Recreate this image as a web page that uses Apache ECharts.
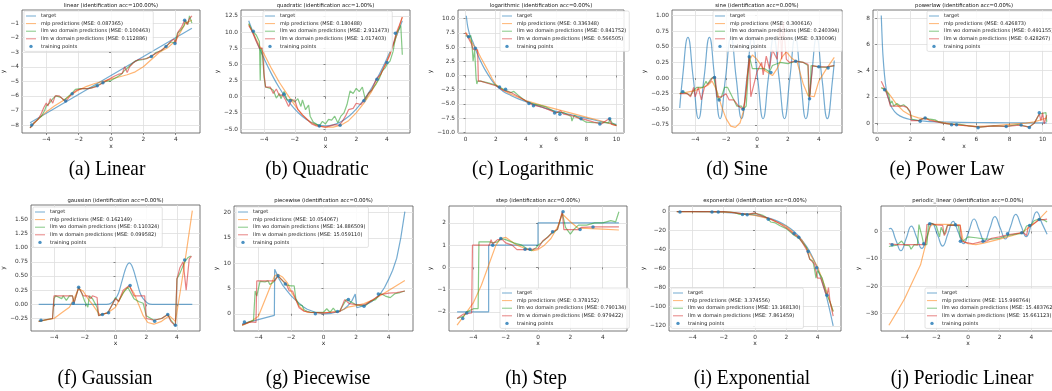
<!DOCTYPE html>
<html>
<head>
<meta charset="utf-8">
<script src="https://cdn.jsdelivr.net/npm/echarts@6.0.0/dist/echarts.min.js"></script>
<style>
  html, body { margin: 0; padding: 0; background: #fff; }
  #fig { width: 1052px; height: 391px; }
</style>
</head>
<body>
<div id="fig"></div>
<script>
// ---------------------------------------------------------------- data
// (a) linear
var linMse = [0.087365, 0.100463, 0.112886];
var linTarget = [[-5, -7.85], [5, -1.35]];
var linMlp = [[-5, -8.2], [-4.5, -7.6], [-4, -7.1], [-3.5, -6.7], [-3, -6.35], [-2.5, -5.95], [-2, -5.6], [-1.5, -5.35], [-1, -5.15], [-0.5, -5.0], [0, -4.85], [0.5, -4.7], [1, -4.55], [1.5, -4.35], [2, -4.0], [2.5, -3.5], [3, -3.0], [3.5, -2.7], [4, -2.2], [4.3, -1.6], [4.6, -1.0], [5, -0.8]];
var linWo = [[-5, -8.2], [-4.8, -7.9], [-4.5, -7.6], [-4.3, -7.4], [-4.1, -7.0], [-4, -6.7], [-3.8, -6.5], [-3.6, -6.2], [-3.4, -6.0], [-3.1, -6.1], [-2.9, -6.3], [-2.7, -6.1], [-2.4, -5.8], [-2.2, -5.55], [-1.9, -5.5], [-1.5, -5.5], [-1.2, -5.45], [-0.9, -5.3], [-0.6, -5.15], [-0.3, -5.0], [0, -4.95], [0.3, -4.75], [0.6, -4.55], [0.8, -4.3], [1.0, -4.1], [1.2, -3.9], [1.5, -3.6], [2.0, -3.5], [2.5, -3.3], [2.8, -3.0], [3.1, -2.9], [3.4, -2.6], [3.7, -2.3], [3.95, -2.35], [4.1, -1.7], [4.3, -1.5], [4.5, -1.2], [4.6, -0.8], [4.75, -1.1], [4.85, -0.5], [5, -1.0]];
var linW = [[-5, -8.2], [-4.8, -7.9], [-4.5, -7.6], [-4.3, -7.2], [-4.15, -6.8], [-4.0, -6.5], [-3.9, -6.7], [-3.75, -6.2], [-3.6, -6.5], [-3.45, -6.0], [-3.2, -6.0], [-3.0, -6.2], [-2.8, -6.4], [-2.6, -6.1], [-2.4, -5.85], [-2.1, -5.6], [-1.8, -5.5], [-1.4, -5.5], [-1.0, -5.4], [-0.8, -5.3], [-0.5, -5.1], [-0.2, -4.9], [0.2, -4.65], [0.5, -4.5], [0.7, -4.45], [0.85, -4.0], [1.0, -4.4], [1.15, -4.0], [1.4, -3.7], [1.7, -3.5], [2.2, -3.45], [2.5, -3.25], [2.9, -3.0], [3.2, -2.8], [3.5, -2.5], [3.7, -2.25], [3.9, -2.1], [4.0, -2.4], [4.15, -1.6], [4.35, -1.3], [4.55, -0.8], [4.7, -1.1], [4.85, -0.7], [5, -0.5]];
var linPts = [[-4.9, -8.0], [-2.8, -6.35], [-2.4, -5.85], [-0.85, -5.3], [-0.5, -5.1], [2.5, -3.3], [3.4, -2.6], [3.95, -2.4], [4.55, -0.8]];
var linXTicks = [-4, -2, 0, 2, 4];
var linYTicks = [-8, -7, -6, -5, -4, -3, -2, -1];

// (b) quadratic
var quadMse = [0.180488, 2.911473, 1.017403];
var quadTarget = [[-5, 11.75], [-4.5, 8.66], [-4, 5.9], [-3.5, 3.46], [-3, 1.35], [-2.5, -0.44], [-2, -1.9], [-1.5, -3.04], [-1, -3.85], [-0.5, -4.34], [0, -4.5], [0.5, -4.34], [1, -3.85], [1.5, -3.04], [2, -1.9], [2.5, -0.44], [3, 1.35], [3.5, 3.46], [4, 5.9], [4.5, 8.66], [5, 11.75]];
var quadMlp = [[-5, 11.2], [-4.5, 8.8], [-4, 6.6], [-3.5, 4.3], [-3, 2.2], [-2.5, 0.4], [-2, -1.3], [-1.5, -2.8], [-1, -3.9], [-0.5, -4.5], [0, -4.7], [0.5, -4.7], [1, -4.4], [1.5, -3.7], [2, -2.5], [2.5, -1.0], [3, 0.8], [3.5, 3.0], [4, 5.5], [4.5, 8.5], [5, 12.3]];
var quadWo = [[-5, 11.3], [-4.8, 10.3], [-4.5, 9.5], [-4.3, 8.5], [-4.25, 2.5], [-4.2, 7.5], [-4.1, 6.5], [-4, 3.0], [-3.9, 1.5], [-3.6, 1.3], [-3.4, 1.0], [-3.2, -0.2], [-3.0, 0.5], [-2.9, -0.3], [-2.7, 0.8], [-2.5, -0.5], [-2.2, -0.4], [-2, -0.8], [-1.8, -0.3], [-1.6, -1.5], [-1.5, -0.5], [-1.3, -2], [-1.1, -1.3], [-1, -3], [-0.8, -3.9], [-0.6, -4.2], [-0.4, -4.5], [-0.2, -3.8], [0, -4.2], [0.2, -3.5], [0.4, -3.6], [0.6, -3.0], [0.8, -4.0], [1.0, -3.0], [1.2, -2.5], [1.4, -1.2], [1.6, 0.9], [1.8, 0.5], [2.0, 1.3], [2.2, 0.8], [2.4, 1.5], [2.6, -0.5], [2.8, 0.5], [3.0, 1.0], [3.3, 2.0], [3.5, 2.8], [3.7, 4.0], [3.9, 4.5], [4.0, 5.0], [4.2, 5.5], [4.4, 7.0], [4.6, 9.8], [4.8, 10.5], [4.9, 11], [5, 6.5]];
var quadW = [[-5, 11.0], [-4.8, 10.2], [-4.5, 8.5], [-4.3, 7.5], [-4.1, 7.5], [-4, 3.5], [-3.9, 1.5], [-3.6, 1.5], [-3.4, 0.5], [-3.2, 1.2], [-3.0, 0.2], [-2.8, 0.3], [-2.6, -0.5], [-2.4, -1.5], [-2.2, -0.5], [-2.0, -0.5], [-1.8, -2.0], [-1.5, -2.8], [-1.2, -3.5], [-0.9, -4.2], [-0.6, -4.5], [-0.3, -4.6], [0, -4.7], [0.3, -4.5], [0.6, -4.3], [0.9, -4.4], [1.1, -3.8], [1.3, -3.0], [1.5, -2.0], [1.8, -1.8], [2.0, -1.0], [2.3, -1.2], [2.5, -0.6], [2.8, 0.5], [3.0, 1.0], [3.3, 2.7], [3.6, 3.5], [3.9, 5.0], [4.2, 6.5], [4.4, 8.0], [4.6, 9.8], [4.8, 11], [5, 12.3]];
var quadPts = [[-4.7, 10.1], [-2.7, 0.4], [-2.3, -0.6], [-0.4, -4.5], [0.95, -4.4], [2.5, -0.6], [3.35, 2.7], [4, 5.3], [4.55, 9.8]];
var quadXTicks = [-4, -2, 0, 2, 4];
var quadYTicks = [-5, -2.5, 0, 2.5, 5, 7.5, 10, 12.5];

// (c) logarithmic
var logMse = [0.336348, 0.841752, 0.566505];
var logTarget = [[0.05, 10.5], [0.15, 8.5], [0.3, 7.0], [0.5, 5.8], [0.75, 4.0], [1.0, 2.5], [1.25, 1.2], [1.5, 0.1], [1.75, -0.9], [2, -1.7], [2.5, -2.8], [3, -3.5], [3.5, -4.1], [4, -4.6], [5, -5.5], [6, -6.3], [7, -6.9], [8, -7.5], [9, -8.1], [10, -8.6]];
var logMlp = [[0, 7.6], [0.25, 6.6], [0.5, 5.4], [0.75, 4.5], [1.0, 3.2], [1.25, 2.0], [1.5, 0.8], [1.75, -0.5], [2, -1.6], [2.5, -2.6], [3, -3.3], [4, -4.4], [5, -5.2], [6, -5.9], [7, -6.6], [8, -7.3], [9, -8.0], [10, -8.8]];
var logWo = [[0, 7.0], [0.2, 6.8], [0.35, 7.0], [0.45, 4.5], [0.5, 2.5], [0.55, 3.5], [0.6, 4.5], [0.7, -0.5], [0.75, -1.5], [0.8, -1.0], [1.0, -1.0], [1.5, -1.3], [2, -1.7], [2.5, -2.4], [3, -3.0], [3.2, -2.8], [3.5, -3.5], [4, -4.5], [4.5, -5.0], [5, -5.3], [5.3, -5.5], [6, -6.5], [6.5, -6.5], [7, -7.2], [7.05, -8.0], [7.2, -7.0], [8, -8.2], [8.5, -8.3], [9, -8.3], [9.5, -8.3], [9.55, -7.5], [9.7, -8.3], [10, -8.8]];
var logW = [[0, 7.5], [0.2, 6.5], [0.4, 5.5], [0.5, 4.6], [0.8, 4.5], [0.85, -1.0], [1.0, -1.0], [1.5, -1.4], [2, -1.8], [2.5, -2.6], [3, -3.0], [3.5, -3.7], [4, -4.5], [4.5, -5.2], [5, -5.5], [5.5, -6.0], [6, -6.6], [6.3, -6.2], [6.5, -6.8], [7, -7.0], [7.5, -7.5], [8, -7.8], [8.5, -8.2], [9, -8.5], [9.5, -7.6], [9.7, -8.6], [10, -8.8]];
var logPts = [[0.2, 6.8], [0.65, 4.8], [2.25, -2.0], [2.65, -2.4], [4.2, -4.9], [4.5, -5.3], [5.9, -6.6], [6.25, -6.8], [7.65, -7.6], [8.9, -8.5], [9.55, -7.6]];
var logXTicks = [0, 2, 4, 6, 8, 10];
var logYTicks = [-10, -7.5, -5, -2.5, 0, 2.5, 5, 7.5, 10];

// (d) sine
var sinMse = [0.300616, 0.240394, 0.330096];
var sinTarget = [[-5, -0.48], [-4.82, 0], [-4.47, 0.65], [-4.125, 0], [-3.78, -0.65], [-3.43, 0], [-3.08, 0.65], [-2.735, 0], [-2.39, -0.65], [-2.04, 0], [-1.69, 0.65], [-1.345, 0], [-1.0, -0.65], [-0.655, 0], [-0.31, 0.65], [0.04, 0], [0.39, -0.65], [0.735, 0], [1.08, 0.65], [1.43, 0], [1.78, -0.65], [2.125, 0], [2.47, 0.65], [2.815, 0], [3.16, -0.65], [3.51, 0], [3.86, 0.65], [4.2, 0], [4.55, -0.65], [4.9, 0], [5, 0.28]];
var sinMlp = [[-5, -0.25], [-4, -0.2], [-3.2, -0.12], [-2.9, -0.05], [-2.6, -0.2], [-2.3, -0.45], [-2, -0.65], [-1.7, -0.77], [-1.4, -0.79], [-1.1, -0.72], [-0.9, -0.55], [-0.75, -0.3], [-0.6, 0.1], [-0.45, 0.3], [-0.3, 0.37], [0, 0.3], [0.5, 0.12], [1.0, 0.04], [1.3, 0.15], [1.6, 0.33], [1.9, 0.42], [2.2, 0.33], [2.6, 0.25], [3.0, -0.1], [3.3, -0.28], [3.7, -0.3], [4.0, -0.05], [4.5, 0.15], [5, 0.33]];
var sinWo = [[-5, -0.25], [-4.8, -0.22], [-4.3, -0.28], [-4.1, -0.2], [-3.9, -0.15], [-3.5, -0.15], [-3.3, -0.05], [-3.2, -0.1], [-3.0, -0.02], [-2.8, 0.02], [-2.7, 0.0], [-2.5, -0.35], [-2.3, -0.3], [-2.1, -0.15], [-1.9, -0.15], [-1.7, -0.25], [-1.5, -0.35], [-1.3, -0.45], [-1.0, -0.45], [-0.9, -0.5], [-0.7, -0.45], [-0.5, 0.35], [-0.3, 0.15], [0.0, 0.15], [0.5, 0.15], [0.8, 0.1], [1.0, 0.2], [1.5, 0.25], [2.0, 0.23], [2.5, 0.27], [3.0, 0.25], [3.3, 0.2], [3.35, -0.3], [3.45, -0.25], [3.5, 0.2], [4, 0.18], [4.5, 0.17], [5, 0.2]];
var sinW = [[-5, -0.25], [-4.5, -0.25], [-4.3, -0.3], [-4.1, -0.15], [-4.0, -0.3], [-3.8, -0.15], [-3.6, -0.35], [-3.4, -0.15], [-3.2, -0.1], [-3.0, -0.05], [-2.9, 0.0], [-2.7, 0.02], [-2.6, -0.3], [-2.3, -0.3], [-2.0, -0.25], [-1.8, -0.35], [-1.5, -0.35], [-1.2, -0.45], [-0.9, -0.5], [-0.8, -0.4], [-0.7, -0.2], [-0.5, 0.35], [-0.4, -0.3], [-0.2, -0.1], [0, 0.1], [0.3, 0.25], [0.4, 0.05], [0.6, 0.35], [0.8, 0.15], [1.0, 0.45], [1.3, 0.3], [1.5, 0.85], [1.6, 0.3], [1.7, 0.9], [1.9, 0.3], [2.1, 0.25], [2.5, 0.27], [3.0, 0.25], [3.3, 0.22], [3.4, -0.33], [3.6, 0.2], [4, 0.18], [4.5, 0.18], [5, 0.2]];
var sinPts = [[-4.8, -0.22], [-2.75, 0.01], [-2.45, -0.35], [-0.9, -0.5], [-0.5, 0.34], [0.9, 0.09], [2.5, 0.27], [3.4, -0.33], [4.0, 0.18], [4.6, 0.16]];
var sinXTicks = [-4, -2, 0, 2, 4];
var sinYTicks = [-0.75, -0.5, -0.25, 0, 0.25, 0.5, 0.75, 1.0];

// (e) power law
var powMse = [0.426873, 0.491155, 0.428267];
var powTarget = [[0.25, 8.2], [0.3, 6.5], [0.35, 5.2], [0.45, 3.6], [0.55, 2.6], [0.7, 1.8], [0.9, 1.15], [1.2, 0.7], [1.6, 0.42], [2, 0.28], [3, 0.14], [4, 0.09], [6, 0.05], [8, 0.03], [10.25, 0.02]];
var powMlp = [[0.25, 2.7], [0.5, 2.6], [0.8, 2.1], [1.2, 1.4], [1.6, 0.9], [2, 0.6], [2.5, 0.4], [3, 0.3], [4, 0.05], [5, -0.15], [6, -0.25], [7, -0.2], [8, -0.1], [9, 0.0], [9.5, 0.1], [10, 0.3], [10.25, 0.4]];
var powWo = [[0.25, 2.7], [0.4, 2.6], [0.5, 2.5], [0.7, 2.2], [0.8, 1.5], [0.9, 1.7], [1.0, 1.3], [1.2, 1.5], [1.4, 1.3], [1.6, 1.4], [1.8, 1.2], [1.9, 1.0], [2.0, 0.8], [2.1, 0.3], [2.5, 0.2], [2.9, 0.4], [3.2, 0.3], [3.5, 0.25], [3.7, 0.1], [4.0, 0.0], [4.5, -0.1], [5.0, -0.1], [5.5, -0.2], [6.2, -0.3], [7.0, -0.2], [7.8, -0.25], [8.5, -0.1], [9.2, -0.3], [9.5, 0.0], [9.8, 0.7], [10.2, 0.8], [10.25, 0.1]];
var powW = [[0.25, 3.2], [0.4, 2.8], [0.5, 2.5], [0.7, 1.8], [0.8, 1.3], [1.2, 1.3], [1.6, 1.3], [1.8, 1.2], [2.0, 0.9], [2.05, 0.2], [2.5, 0.2], [2.9, 0.4], [3.2, 0.2], [3.6, 0.1], [4.0, 0.0], [4.5, -0.1], [5.0, -0.15], [5.5, -0.2], [6.2, -0.3], [7.0, -0.2], [7.8, -0.25], [8.6, -0.15], [9.2, -0.3], [9.5, 0.0], [9.8, 0.7], [9.9, 0.2], [10.0, 0.8], [10.1, -0.05], [10.25, 0.6]];
var powPts = [[0.45, 2.55], [2.6, 0.15], [2.9, 0.4], [4.5, -0.12], [4.8, -0.12], [6.1, -0.35], [7.8, -0.25], [8.7, -0.15], [9.2, -0.33], [9.8, 0.8]];
var powXTicks = [0, 2, 4, 6, 8, 10];
var powYTicks = [0, 2, 4, 6, 8];

// (f) gaussian
var gauMse = [0.162149, 0.110324, 0.099582];
var gauTarget = [[-5, 0], [-0.6, 0], [-0.3, 0.02], [0, 0.1], [0.2, 0.2], [0.4, 0.39], [0.6, 0.58], [0.75, 0.69], [0.9, 0.73], [1.05, 0.69], [1.2, 0.58], [1.4, 0.39], [1.6, 0.2], [1.8, 0.1], [2.1, 0.02], [2.4, 0], [5, 0]];
var gauMlp = [[-5, -0.3], [-4, -0.25], [-3.5, -0.15], [-3, -0.05], [-2.7, 0.1], [-2.4, 0.28], [-2.1, 0.23], [-1.8, 0.1], [-1.5, 0.0], [-1.2, -0.12], [-1, -0.18], [-0.5, -0.15], [0, -0.05], [0.3, 0.1], [0.6, 0.25], [0.9, 0.32], [1.2, 0.2], [1.5, 0.0], [1.8, -0.2], [2.1, -0.32], [2.5, -0.35], [3, -0.3], [3.5, -0.2], [3.9, -0.3], [4.2, 0.2], [4.6, 0.9], [5, 1.65]];
var gauWo = [[-5, -0.3], [-4.5, -0.27], [-4.1, -0.25], [-4.0, 0.1], [-3.9, 0.15], [-3.5, 0.1], [-3.4, 0.15], [-3.2, 0.07], [-3.0, 0.15], [-2.8, 0.15], [-2.7, 0.02], [-2.4, 0.3], [-2.2, 0.2], [-2.0, 0.05], [-1.8, -0.05], [-1.7, 0.15], [-1.5, 0.1], [-1.2, -0.05], [-1.1, -0.2], [-0.8, -0.17], [-0.5, -0.15], [-0.2, 0.0], [0, 0.12], [0.2, 0.05], [0.5, 0.2], [0.8, 0.3], [0.9, 0.32], [1.2, 0.1], [1.5, 0.05], [1.8, 0.02], [2.0, -0.2], [2.5, -0.28], [3.0, -0.25], [3.4, -0.18], [3.6, -0.28], [3.9, -0.38], [4.0, 0.45], [4.2, 0.55], [4.5, 0.75], [4.7, 0.82], [4.9, 0.85]];
var gauW = [[-5, -0.3], [-4.7, -0.28], [-4.1, -0.25], [-4, 0.15], [-3.0, 0.15], [-2.8, 0.15], [-2.7, 0.02], [-2.4, 0.3], [-2.1, 0.15], [-1.8, 0.15], [-1.6, 0.1], [-1.5, 0.15], [-1.2, 0.12], [-1.1, -0.2], [-0.8, -0.17], [-0.5, -0.15], [-0.2, 0.0], [0, 0.1], [0.2, 0.05], [0.5, 0.25], [0.9, 0.33], [1.2, 0.15], [1.9, 0.15], [2.0, -0.25], [2.5, -0.28], [3.0, -0.25], [3.4, -0.18], [3.6, -0.3], [3.9, -0.38], [4.0, 0.45], [4.2, 0.65], [4.4, 0.75], [4.6, 0.25], [4.8, 0.8], [4.95, 0.85]];
var gauPts = [[-4.85, -0.28], [-2.75, 0.02], [-2.4, 0.3], [-0.85, -0.18], [-0.45, -0.15], [0.95, 0.33], [2.55, -0.3], [3.4, -0.18], [3.9, -0.37], [4.5, 0.78]];
var gauXTicks = [-4, -2, 0, 2, 4];
var gauYTicks = [-0.25, 0, 0.25, 0.5, 0.75, 1.0, 1.25, 1.5];

// (g) piecewise
var pwMse = [10.054067, 14.886509, 15.059110];
var pwTarget = [[-5, -2.0], [-3.02, -0.3], [-3.0, 8.8], [-2.75, 7.0], [-2.5, 5.6], [-2.25, 4.6], [-2, 3.6], [-1.75, 2.8], [-1.5, 2.1], [-1.25, 1.4], [-1, 0.9], [-0.5, 0.3], [0, 0.0], [0.5, 0.1], [1.0, 0.5], [1.25, 0.9], [1.5, 1.6], [1.75, 2.6], [1.95, 3.9], [2.05, 1.2], [2.5, 1.6], [3.0, 2.5], [3.25, 3.2], [3.5, 4.0], [3.75, 5.2], [4.0, 6.8], [4.25, 8.6], [4.5, 11.0], [4.75, 15.0], [5.0, 20.2]];
var pwMlp = [[-5, -2.3], [-4.5, -1.6], [-4, -0.5], [-3.5, 3.5], [-3, 7.5], [-2.8, 7.8], [-2.5, 7.2], [-2.2, 6.0], [-2, 4.5], [-1.7, 2.8], [-1.5, 1.5], [-1.2, 0.6], [-1, 0.3], [0, 0.2], [1, 0.5], [1.5, 1.3], [2, 1.6], [2.5, 2.0], [3, 2.7], [3.5, 3.6], [4, 4.6], [4.5, 5.6], [5, 6.6]];
var pwWo = [[-5, -2.2], [-4.5, -1.5], [-4.3, -1.3], [-4.2, 4.5], [-4.1, 3.5], [-3.9, 6.4], [-3.6, 6.3], [-3.4, 6.5], [-3.3, 5.8], [-3.1, 6.2], [-3.0, 6.5], [-2.8, 7.5], [-2.5, 6.5], [-2.3, 5.7], [-2.0, 5.5], [-1.8, 5.5], [-1.7, 3.0], [-1.5, 1.8], [-1.3, 1.6], [-1.2, 0.8], [-1.0, 0.5], [-0.8, 0.3], [0, 0.3], [0.2, 1.0], [0.4, 0.3], [0.6, 1.1], [0.8, 0.3], [1, 0.6], [1.4, 2.8], [1.6, 2.5], [2, 1.8], [2.3, 1.6], [2.6, 1.7], [2.9, 2.5], [3.2, 2.8], [3.5, 4.0], [3.8, 3.5], [4.1, 3.2], [4.4, 4.0], [4.7, 4.2], [5, 4.5]];
var pwW = [[-5, -2.2], [-4.5, -1.6], [-4.15, -1.7], [-4.1, 6.5], [-3.0, 6.5], [-2.8, 7.5], [-2.5, 6.5], [-2.3, 6.0], [-2.1, 4.5], [-1.9, 4.5], [-1.7, 2.8], [-1.5, 1.2], [-1.2, 0.5], [-0.8, 0.3], [0, 0.2], [1, 0.4], [1.3, 2.8], [1.6, 2.0], [2, 1.8], [2.5, 1.7], [3, 2.7], [3.5, 3.8], [4, 4.1], [4.5, 4.2], [5, 4.5]];
var pwPts = [[-4.86, -1.6], [-2.8, 7.5], [-2.35, 5.9], [-0.5, 0.0], [0.86, 0.45], [1.53, 2.8], [2.49, 1.5], [3.37, 3.9]];
var pwXTicks = [-4, -2, 0, 2, 4];
var pwYTicks = [0, 5, 10, 15, 20];

// (h) step
var stpMse = [0.378152, 0.790134, 0.979422];
var stpTarget = [[-5, -2], [-3.05, -2], [-3.05, 1], [0, 1], [0, 2], [5, 2]];
var stpMlp = [[-5, -2.6], [-4.5, -2.1], [-4, -1.6], [-3.5, -0.8], [-3, 0.2], [-2.6, 1.0], [-2.3, 1.3], [-2, 1.35], [-1.7, 1.2], [-1.3, 1.0], [-0.8, 0.85], [-0.3, 0.75], [0, 0.8], [0.4, 1.0], [0.8, 1.3], [1.2, 1.8], [1.5, 2.4], [2, 2.05], [2.5, 1.75], [3, 1.75], [4, 1.72], [5, 1.68]];
var stpWo = [[-5, -2.3], [-4.6, -2.2], [-4.4, -2.0], [-3.95, -1.85], [-3.7, -1.85], [-3.65, 1.15], [-3.0, 1.15], [-2.8, 1.1], [-2.5, 1.15], [-2.3, 1.3], [-2.0, 1.25], [-1.5, 1.1], [-1.0, 1.0], [-0.7, 0.85], [-0.4, 0.75], [-0.1, 0.9], [0, 1.0], [0.2, 1.1], [0.5, 1.3], [0.8, 1.5], [1.0, 1.6], [1.2, 1.7], [1.5, 2.45], [1.7, 1.8], [2.0, 1.5], [2.2, 1.7], [2.5, 1.9], [3, 1.9], [3.5, 2.0], [4, 2.0], [4.5, 2.1], [4.8, 2.05], [5, 2.5]];
var stpW = [[-5, -2.3], [-4.6, -2.1], [-4.1, -2.05], [-4.05, 1.0], [-3.0, 1.0], [-2.9, 1.25], [-2.8, 1.05], [-2.5, 1.25], [-2.2, 1.25], [-2.0, 1.1], [-1.6, 1.0], [-1.3, 0.8], [-0.8, 0.8], [-0.3, 0.82], [0, 0.85], [0.3, 1.2], [0.6, 1.35], [0.9, 1.6], [1.2, 1.7], [1.5, 2.5], [1.6, 1.7], [2.5, 1.7], [2.7, 1.8], [3.5, 1.82], [5, 1.82]];
var stpPts = [[-4.65, -2.3], [-4.4, -2.05], [-2.8, 1.0], [-2.3, 1.3], [-0.8, 0.82], [-0.5, 0.82], [0.9, 1.6], [1.55, 2.5], [2.6, 1.7], [3.4, 1.82]];
var stpXTicks = [-4, -2, 0, 2, 4];
var stpYTicks = [-2, -1, 0, 1, 2];

// (i) exponential
var expMse = [3.374556, 13.168130, 7.861459];
var expTarget = [[-5, -0.1], [-4, -0.2], [-3, -0.5], [-2, -0.9], [-1, -1.9], [0, -3.75], [1, -7.5], [1.5, -10.6], [2, -15], [2.5, -21], [3, -30], [3.5, -42], [4, -60], [4.5, -85], [5, -120]];
var expMlp = [[-5, -0.3], [-3, -0.5], [-1.5, -1], [0, -4], [1, -8], [2, -15.5], [3, -30], [4, -58], [4.5, -80], [5, -105]];
var expWo = [[-5, 0], [-4.8, 0], [-2, 0], [-1.3, -1], [-1, -3], [-0.5, -3], [0, -2], [0.1, 0.0], [0.3, -3], [0.5, -4], [0.8, -7], [1, -11], [1.3, -12], [1.6, -15], [2, -18], [2.3, -22], [2.5, -25], [2.8, -28], [3.0, -32], [3.3, -38], [3.5, -50], [3.7, -52], [3.8, -60], [3.9, -70], [4.0, -62], [4.3, -70], [4.6, -88], [4.8, -95], [4.9, -93], [5, -105]];
var expW = [[-5, 0], [-2, 0], [-1.2, -1.5], [-0.5, -3], [0, -1.5], [0.2, -3], [0.5, -5], [1, -8], [1.5, -12], [2, -17], [2.3, -21], [2.5, -24], [2.8, -27], [3, -32], [3.3, -40], [3.5, -50], [3.8, -55], [4.0, -70], [4.2, -70], [4.5, -85], [4.6, -88], [4.7, -80], [4.8, -95], [5, -110]];
var expPts = [[-4.8, -0.5], [-2.75, -0.6], [-2.35, -0.6], [-0.8, -3], [-0.5, -3.3], [0.85, -8], [2.5, -23], [2.8, -27], [3.4, -42], [3.95, -59], [4.6, -88]];
var expXTicks = [-4, -2, 0, 2, 4];
var expYTicks = [-120, -100, -80, -60, -40, -20, 0];

// (j) periodic linear
var perMse = [115.998764, 15.483762, 15.661123];
var perTarget = [[-5, 0.9], [-4.9, 1.1], [-4.57, -3.0], [-4.24, -7.06], [-3.91, -2.6], [-3.58, 1.97], [-3.25, -2.1], [-2.92, -6.2], [-2.59, -1.7], [-2.26, 2.83], [-1.93, -1.25], [-1.6, -5.34], [-1.27, -0.83], [-0.94, 3.69], [-0.61, -0.4], [-0.28, -4.48], [0.05, 0.03], [0.38, 4.55], [0.71, 0.46], [1.04, -3.62], [1.37, 0.89], [1.7, 5.4], [2.03, 1.32], [2.36, -2.77], [2.69, 1.75], [3.02, 6.26], [3.35, 2.18], [3.68, -1.91], [4.01, 2.61], [4.34, 7.12], [4.67, 3.04], [5.0, -1.05]];
var perMlp = [[-5, -34.3], [-4.5, -29.5], [-4, -24.5], [-3.5, -18.3], [-3, -12.2], [-2.75, -6.5], [-2.55, -1.5], [-2.4, 1.8], [-2.2, 2.6], [-1.5, 2.6], [-0.8, 2.5], [-0.5, 2.4], [-0.3, -3.5], [0, -4.5], [0.5, -4.8], [1, -4.3], [2, -2.8], [3, -1.2], [3.5, 0], [4, 2], [4.5, 4.5], [5, 7.5]];
var perWo = [[-5, -5.5], [-4.5, -5.0], [-4.2, -3.5], [-4.0, -5.0], [-3.7, -5.2], [-3.6, -6.5], [-3.4, -4.8], [-3.2, -5.0], [-3.1, 2.5], [-2.9, -2], [-2.8, -4.8], [-2.6, -4.8], [-2.5, 2.5], [-2.3, 3], [-2.0, 2.0], [-1.8, -2], [-1.7, 1.5], [-1.5, -1.0], [-1.3, 2.2], [-1.0, 2.3], [-0.6, 2.0], [-0.5, -2], [-0.3, -3.5], [0, -2.0], [0.5, -2.3], [1, -2.7], [1.5, -2.8], [2, -2.5], [2.5, -1.5], [3, -1.0], [3.3, -0.8], [3.5, -0.5], [3.7, 2.0], [4.0, 2.5], [4.2, 4.0], [4.5, 4.5], [4.8, 4.2], [5, 3.5]];
var perW = [[-5, -4.5], [-4.5, -4.8], [-4, -4.8], [-3.5, -4.8], [-3, -4.8], [-2.7, -4.8], [-2.6, 2.5], [-2.3, 2.8], [-2.0, 2.4], [-1.6, 2.2], [-1.5, -1.5], [-1.4, -0.5], [-1.3, 2.2], [-0.5, 2.2], [-0.4, -3.5], [-0.2, -4.0], [0, -4.2], [0.3, -4.5], [0.8, -3.8], [1.2, -3.5], [1.5, -2.5], [2, -2.0], [2.5, -1.2], [3, -0.8], [3.5, -0.4], [3.7, -1.5], [3.8, 1.5], [4.2, 3.0], [4.5, 4.3], [4.8, 4.3], [5, 4.5]];
var perPts = [[-4.8, -4.9], [-2.8, -4.5], [-2.42, 2.8], [-0.8, 2.4], [-0.48, -3.6], [0.95, -3.6], [2.5, -0.85], [3.4, -0.5], [3.9, 2.2], [4.5, 4.4]];
var perXTicks = [-4, -2, 0, 2, 4];
var perYTicks = [-30, -20, -10, 0];

// ---------------------------------------------------------------- style
var FONT = 'DejaVu Sans';
var LINE_COLORS = ['rgba(31,119,180,0.62)', 'rgba(255,127,14,0.58)', 'rgba(44,160,44,0.58)', 'rgba(214,39,40,0.58)'];
var POINT_COLOR = '#1f77b4';
// thin bar centred in a 10 x 3.4 box, used as legend handle for lines
var LINE_ICON = 'path://M0,0M0,1.2h10v1h-10zM10,3.4';

// one entry per subplot: box = [left, top, right, bottom] in px
var panels = [
  {title: 'linear (identification acc=100.00%)', box: [22, 10, 200, 133], xr: [-5.5, 5.5], yr: [-8.55, -0.1], xt: linXTicks, yt: linYTicks, yDec: 0, yGap: 7, leg: [24, 11],
   lines: [linTarget, linMlp, linWo, linW], pts: linPts, mse: linMse, smooth: 0},
  {title: 'quadratic (identification acc=1.00%)', box: [241, 10, 410, 133], xr: [-5.5, 5.5], yr: [-5.6, 13.4], xt: quadXTicks, yt: quadYTicks, yDec: 1, yGap: 8, leg: [263, 11],
   lines: [quadTarget, quadMlp, quadWo, quadW], pts: quadPts, mse: quadMse, smooth: 0.3},
  {title: 'logarithmic (identification acc=0.00%)', box: [458, 10, 624, 133], xr: [-0.5, 10.5], yr: [-10.1, 11.5], xt: logXTicks, yt: logYTicks, yDec: 1, yGap: 18, leg: [500, 11],
   lines: [logTarget, logMlp, logWo, logW], pts: logPts, mse: logMse, smooth: 0.3},
  {title: 'sine (identification acc=0.00%)', box: [672, 10, 842, 133], xr: [-5.5, 5.5], yr: [-0.88, 1.09], xt: sinXTicks, yt: sinYTicks, yDec: 2, yGap: 18, leg: [713, 11],
   lines: [sinTarget, sinMlp, sinWo, sinW], pts: sinPts, mse: sinMse, smooth: 0.5},
  {title: 'powerlaw (identification acc=0.00%)', box: [873, 10, 1055, 133], xr: [-0.25, 10.75], yr: [-0.75, 8.62], xt: powXTicks, yt: powYTicks, yDec: 0, yGap: 5, leg: [927, 11],
   lines: [powTarget, powMlp, powWo, powW], pts: powPts, mse: powMse, smooth: 0.3},
  {title: 'gaussian (identification acc=0.00%)', box: [31, 205, 200, 331], xr: [-5.5, 5.5], yr: [-0.47, 1.75], xt: gauXTicks, yt: gauYTicks, yDec: 2, yGap: 18, leg: [33, 207],
   lines: [gauTarget, gauMlp, gauWo, gauW], pts: gauPts, mse: gauMse, smooth: 0.3},
  {title: 'piecewise (identification acc=0.00%)', box: [234, 206, 413, 331], xr: [-5.5, 5.5], yr: [-3.4, 21.3], xt: pwXTicks, yt: pwYTicks, yDec: 0, yGap: 9, leg: [236, 207],
   lines: [pwTarget, pwMlp, pwWo, pwW], pts: pwPts, mse: pwMse, smooth: 0},
  {title: 'step (identification acc=0.00%)', box: [449, 206, 627, 331], xr: [-5.5, 5.5], yr: [-2.86, 2.76], xt: stpXTicks, yt: stpYTicks, yDec: 0, yGap: 9, leg: [500, 288],
   lines: [stpTarget, stpMlp, stpWo, stpW], pts: stpPts, mse: stpMse, smooth: 0},
  {title: 'exponential (identification acc=0.00%)', box: [669, 206, 841, 331], xr: [-5.5, 5.5], yr: [-125.5, 5.8], xt: expXTicks, yt: expYTicks, yDec: 0, yGap: 15, leg: [671, 288],
   lines: [expTarget, expMlp, expWo, expW], pts: expPts, mse: expMse, smooth: 0.3},
  {title: 'periodic_linear (identification acc=0.00%)', box: [881, 206, 1055, 331], xr: [-5.5, 5.5], yr: [-36.4, 9.3], xt: perXTicks, yt: perYTicks, yDec: 0, yGap: 14, leg: [925, 288],
   lines: [perTarget, perMlp, perWo, perW], pts: perPts, mse: perMse, smooth: 0.5}
];

var captions = [
  ['(a) Linear', 107, 169], ['(b) Quadratic', 317, 169], ['(c) Logarithmic', 533, 169], ['(d) Sine', 737, 169], ['(e) Power Law', 947, 169],
  ['(f) Gaussian', 105, 378], ['(g) Piecewise', 318, 378], ['(h) Step', 536, 378], ['(i) Exponential', 752, 378], ['(j) Periodic Linear', 962, 378]
];

function tickFmt(dec) {
  return function (v) {
    var s = Math.abs(v).toFixed(dec);
    return (v < 0 && Number(s) !== 0 ? '\u2212' : '') + s;
  };
}

// ---------------------------------------------------------------- build
var grids = [], xAxes = [], yAxes = [], series = [], legends = [], graphics = [];

panels.forEach(function (p, i) {
  var b = p.box;
  var row2 = b[1] > 150;
  grids.push({
    left: b[0], top: b[1], width: b[2] - b[0], height: b[3] - b[1],
    show: true, borderColor: '#555', borderWidth: 0.8, backgroundColor: 'transparent',
    outerBoundsMode: 'none'
  });
  var axisCommon = function (ticks, dec) {
    return {
      axisLine: {show: false},
      axisTick: {show: true, length: 2, lineStyle: {color: '#444', width: 0.6}, customValues: ticks},
      axisLabel: {fontSize: 5.8, color: '#333', fontFamily: FONT, margin: 3, customValues: ticks, formatter: tickFmt(dec)},
      splitLine: {show: true, lineStyle: {color: '#dedede', width: 0.8}},
      nameTextStyle: {fontSize: 6, color: '#222', fontFamily: FONT}
    };
  };
  xAxes.push(Object.assign({
    gridIndex: i, type: 'value', min: p.xr[0], max: p.xr[1],
    name: 'x', nameLocation: 'middle', nameGap: row2 ? 8 : 10
  }, axisCommon(p.xt, 0)));
  yAxes.push(Object.assign({
    gridIndex: i, type: 'value', min: p.yr[0], max: p.yr[1],
    name: 'y', nameLocation: 'middle', nameGap: p.yGap
  }, axisCommon(p.yt, p.yDec)));

  var names = [
    'target',
    'mlp predictions (MSE: ' + p.mse[0].toFixed(6) + ')',
    'llm wo domain predictions (MSE: ' + p.mse[1].toFixed(6) + ')',
    'llm w domain predictions (MSE: ' + p.mse[2].toFixed(6) + ')'
  ];
  p.lines.forEach(function (d, k) {
    series.push({
      name: names[k], type: 'line', xAxisIndex: i, yAxisIndex: i, data: d,
      symbol: 'none', smooth: k === 0 ? p.smooth : false,
      color: LINE_COLORS[k], lineStyle: {width: 1.2, color: LINE_COLORS[k]},
      silent: true
    });
  });
  series.push({
    name: 'training points', type: 'scatter', xAxisIndex: i, yAxisIndex: i, data: p.pts,
    symbol: 'circle', symbolSize: 3.5, itemStyle: {color: POINT_COLOR}, z: 5, silent: true
  });

  legends.push({
    left: p.leg[0], top: p.leg[1], orient: 'vertical',
    itemWidth: 10, itemHeight: 3.4, itemGap: 1.6,
    padding: [2, 3, 2, 2], backgroundColor: 'rgba(255,255,255,0.85)',
    borderColor: '#d0d0d0', borderWidth: 0.6, borderRadius: 1.5,
    selectedMode: false, itemStyle: {borderWidth: 0},
    textStyle: {fontSize: 5, color: '#222', fontFamily: FONT, lineHeight: 6},
    data: names.map(function (n) { return {name: n, icon: LINE_ICON}; })
      .concat([{name: 'training points', icon: 'circle'}])
  });

  graphics.push({
    type: 'text', x: (b[0] + b[2]) / 2, y: row2 ? 201 : 5.5, silent: true,
    style: {text: p.title, fontSize: 5.3, fontFamily: FONT, fill: '#111', align: 'center', verticalAlign: 'middle'}
  });
});

captions.forEach(function (c) {
  graphics.push({
    type: 'text', x: c[1], y: c[2], scaleX: 0.92, silent: true,
    style: {text: c[0], fontSize: 21, fontFamily: 'Liberation Serif', fill: '#000', align: 'center', verticalAlign: 'middle'}
  });
});

var fig = echarts.init(document.getElementById('fig'), null, {renderer: 'canvas'});
fig.setOption({
  animation: false,
  backgroundColor: '#fff',
  grid: grids,
  xAxis: xAxes,
  yAxis: yAxes,
  legend: legends,
  series: series,
  graphic: graphics
});
</script>
</body>
</html>
